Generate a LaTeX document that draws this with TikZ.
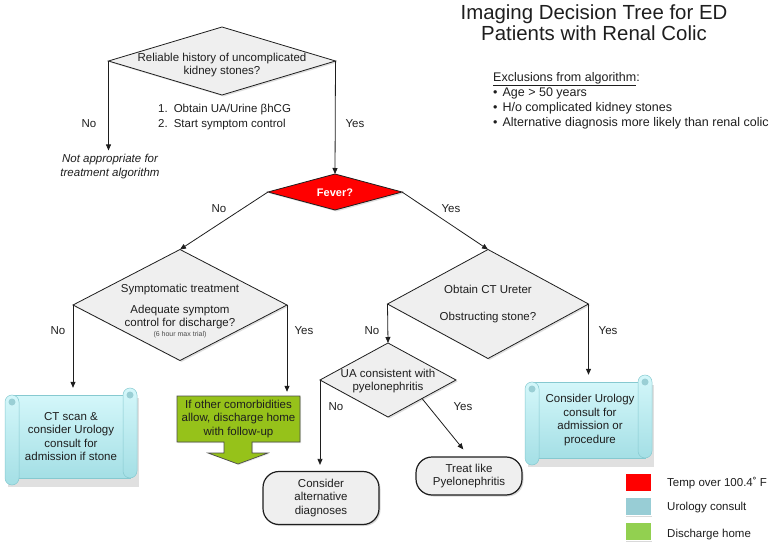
\documentclass[tikz,border=0pt]{standalone}
\usepackage{fontspec}
\setmainfont{Liberation Sans}
\usetikzlibrary{shapes.geometric,arrows.meta,shadows,calc}

\definecolor{dia}{HTML}{EFEFEF}
\definecolor{feverred}{HTML}{FF0000}
\definecolor{scrtop}{HTML}{D4F7FA}
\definecolor{scrbot}{HTML}{A4DFE5}
\definecolor{scredge}{HTML}{86C9D0}
\definecolor{curlc}{HTML}{9ACFD5}
\definecolor{grn}{HTML}{96C21A}
\definecolor{legteal}{HTML}{98CDD5}
\definecolor{leggrn}{HTML}{92D050}
\definecolor{ink}{HTML}{1E1E1E}

\newcommand{\fsz}[2]{\fontsize{#1}{#2}\selectfont}
\newcommand{\scrollbg}[4]{%
  \fill[black, opacity=0.12] ({#1+3},{#2+10}) rectangle ({#3+2},{#4+2});
  \path[scrollpart] ({#1+7},{#2+7}) rectangle ({#3-7},{#4-7});
  \path[scrollpart, rounded corners=7pt] ({#3-14},{#2}) rectangle ({#3},{#4-7});
  \path[scrollpart, rounded corners=7pt] ({#1},{#2+7}) rectangle ({#1+14},{#4});
  \fill[curlc] ({#3-7},{#2+7}) circle (3.5);
  \fill[curlc] ({#1+7},{#2+14}) circle (3.5);
}

\begin{document}
\begin{tikzpicture}[x=1pt,y=-1pt,
  txt/.style={font=\fsz{11.5}{13.6}, text=ink, align=center, inner sep=1pt},
  lbl/.style={font=\fsz{11.5}{13}, text=ink, inner sep=1pt},
  dec/.style={shape=diamond, draw=ink, line width=0.8pt, fill=dia, inner sep=0pt, outer sep=0pt,
    drop shadow={opacity=0.25, shadow xshift=1.5pt, shadow yshift=-1.5pt}},
  term/.style={txt, draw=ink, line width=1.2pt, fill=dia, rounded corners=16pt,
    drop shadow={opacity=0.3, shadow xshift=1.5pt, shadow yshift=-1.5pt}},
  arr/.style={draw=ink, line width=0.8pt, -{Triangle[length=6pt,width=5pt]}},
  scrollpart/.style={top color=scrtop, bottom color=scrbot, draw=scredge, line width=0.5pt},
  legbox/.style={minimum width=26pt, minimum height=18pt, inner sep=0pt, draw=white, line width=1pt,
    drop shadow={opacity=0.3, shadow xshift=1pt, shadow yshift=-1pt}},
]
\useasboundingbox (0,0) rectangle (771,548);

% title and exclusions
\node[font=\fsz{20.4}{21.5}, text=ink, align=center] (title) at (594,22.5) {Imaging Decision Tree for ED\\Patients with Renal Colic};
\node[font=\fsz{12.5}{15.2}, text=ink, align=left, anchor=north west, inner sep=0pt] (excl) at (493,72)
  {\underline{Exclusions from algorithm}:\\
   \textbullet\hspace{5pt}Age > 50 years\\
   \textbullet\hspace{5pt}H/o complicated kidney stones\\
   \textbullet\hspace{5pt}Alternative diagnosis more likely than renal colic};

% decisions
\node[dec, minimum width=227pt, minimum height=68pt] (q1) at (222,61) {};
\node[txt] (q1t) at (222,65) {Reliable history of uncomplicated\\kidney stones?};
\node[font=\fsz{11.5}{15}, text=ink, align=left, anchor=west, inner sep=0pt] (steps) at (158,117.5)
  {1.\hspace{6pt}Obtain UA/Urine βhCG\\2.\hspace{6pt}Start symptom control};

\node[shape=diamond, draw=ink, line width=0.8pt, fill=feverred, inner sep=0pt, outer sep=0pt,
  minimum width=134pt, minimum height=36pt,
  drop shadow={opacity=0.25, shadow xshift=1.5pt, shadow yshift=-1.5pt}] (fever) at (335,192) {};
\node[font=\fsz{11}{13}\bfseries, text=white] (fevert) at (335,193) {Fever?};

\node[dec, minimum width=214pt, minimum height=111pt] (sym) at (180,305) {};
\node[txt] (symt1) at (180,290) {Symptomatic treatment};
\node[txt] (symt2) at (180,317) {Adequate symptom\\control for discharge?};
\node[font=\fsz{7}{8}, text=ink!80, inner sep=0pt] (symt3) at (180,335) {(6 hour max trial)};

\node[dec, minimum width=201pt, minimum height=109pt] (ct) at (488,304) {};
\node[txt] (ctt1) at (488,289) {Obtain CT Ureter};
\node[txt] (ctt2) at (488,318) {Obstructing stone?};

\node[dec, minimum width=136pt, minimum height=74pt] (ua) at (388,380) {};
\node[txt] (uat) at (388,381) {UA consistent with\\pyelonephritis};

% outcomes
\node[font=\fsz{11.5}{14}\itshape, text=ink, align=center, inner sep=1pt] (na) at (110,167) {Not appropriate for\\treatment algorithm};

\scrollbg{5}{388}{137}{485}
\node[txt, minimum width=132pt, minimum height=97pt] (s1) at (71,436.5) {CT scan \&\\consider Urology\\consult for\\admission if stone};

\scrollbg{525}{375}{652}{465}
\node[txt, minimum width=127pt, minimum height=90pt] (s2) at (590,420) {Consider Urology\\consult for\\admission or\\procedure};

\path[fill=grn, draw=ink!80, line width=0.7pt, drop shadow={opacity=0.2, shadow xshift=1pt, shadow yshift=-1pt}]
  (177,396) -- (300,396) -- (300,442) -- (252,442) -- (252,453) -- (268,453) -- (238,464)
  -- (208,453) -- (224,453) -- (224,442) -- (177,442) -- cycle;
\node[txt, minimum width=123pt, minimum height=46pt] (green) at (238.5,419) {If other comorbidities\\allow, discharge home\\with follow-up};

\node[term, minimum width=116pt, minimum height=53pt] (alt) at (321,498) {Consider\\alternative\\diagnoses};
\node[term, minimum width=106pt, minimum height=38pt] (treat) at (469,476) {Treat like\\Pyelonephritis};

% connectors
\draw[arr, shorten >=3pt] (q1.west) -- (q1.west |- na.north);
\draw[arr] (q1.east) -- (fever.north);
\draw[arr] (fever.west) -- (sym.north);
\draw[arr] (fever.east) -- (ct.north);
\draw[arr] (sym.west) -- (sym.west |- s1.north);
\draw[arr, shorten >=4pt] (sym.east) -- (sym.east |- green.north);
\draw[arr] (ct.west) -- (ua.north);
\draw[arr] (ct.east) -- (ct.east |- s2.north);
\draw[arr, shorten >=6pt] (ua.west) -- (ua.west |- alt.north);
\draw[arr, shorten >=9pt] (ua.south east) -- (treat.north);

% branch labels
\node[lbl] (l1) at (89,124) {No};
\node[lbl] (l2) at (355,124) {Yes};
\node[lbl] (l3) at (219,209) {No};
\node[lbl] (l4) at (451,209) {Yes};
\node[lbl] (l5) at (58,331) {No};
\node[lbl] (l6) at (304,331) {Yes};
\node[lbl] (l7) at (372,331) {No};
\node[lbl] (l8) at (608,331) {Yes};
\node[lbl] (l9) at (336,407) {No};
\node[lbl] (l10) at (463,407) {Yes};

% legend
\node[legbox, fill=feverred] (lg1) at (638,482) {};
\node[legbox, fill=legteal] (lg2) at (638,506.5) {};
\node[legbox, fill=leggrn] (lg3) at (638,531.5) {};
\node[lbl, anchor=west] (lt1) at (666,483) {Temp over 100.4˚ F};
\node[lbl, anchor=west] (lt2) at (666,508) {Urology consult};
\node[lbl, anchor=west] (lt3) at (666,535) {Discharge home};
\end{tikzpicture}
\end{document}
